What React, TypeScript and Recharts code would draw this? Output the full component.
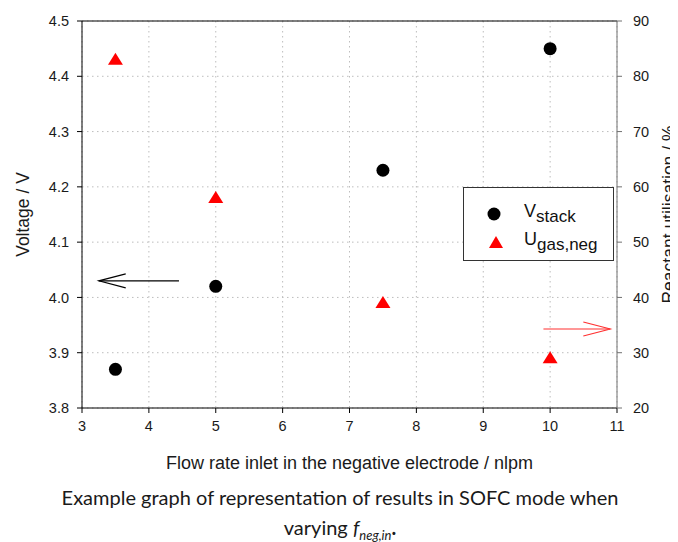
import {
  CartesianGrid,
  ReferenceLine,
  Scatter,
  ScatterChart,
  XAxis,
  YAxis,
} from "recharts";

const flowRates = [3.5, 5, 7.5, 10];
const stackVoltage = [3.87, 4.02, 4.23, 4.45];
const gasUtilisation = [83, 58, 39, 29];

const xTicks = [3, 4, 5, 6, 7, 8, 9, 10, 11];
const voltageTicks = [3.8, 3.9, 4.0, 4.1, 4.2, 4.3, 4.4, 4.5];
const utilTicks = [20, 30, 40, 50, 60, 70, 80, 90];

// arrows pointing to the axis each series belongs to
const voltageArrow = [
  { x: 4.45, y: 4.03 },
  { x: 3.25, y: 4.03 },
];
const utilArrow = [
  { x: 9.9, y: 34.3 },
  { x: 10.9, y: 34.3 },
];

const voltageData = flowRates.map((flow, i) => ({ flow, value: stackVoltage[i] }));
const utilData = flowRates.map((flow, i) => ({ flow, value: gasUtilisation[i] }));

const FONT = '"Liberation Sans", Arial, sans-serif';
const tickStyle = { fontSize: 14.5, fill: "#1a1a1a", fontFamily: FONT };
const labelStyle = { fontSize: 17.5, fill: "#1a1a1a", fontFamily: FONT, textAnchor: "middle" };

function Dot({ cx, cy }: { cx?: number; cy?: number }) {
  return <circle cx={cx} cy={cy} r={6.5} fill="#000" />;
}

function Triangle({ cx, cy }: { cx?: number; cy?: number }) {
  const x = cx ?? 0;
  const y = cy ?? 0;
  return (
    <polygon
      points={`${x},${y - 7} ${x + 7.5},${y + 5} ${x - 7.5},${y + 5}`}
      fill="#ff0000"
    />
  );
}

function makeArrow(color: string) {
  return function Arrow(props: any) {
    const { x1, y1, x2, y2 } = props;
    const dir = x2 > x1 ? -1 : 1;
    return (
      <g stroke={color} strokeWidth={1.1} fill="none">
        <line x1={x1} y1={y1} x2={x2} y2={y2} />
        <polyline
          points={`${x2 + dir * 27},${y2 - 7} ${x2},${y2} ${x2 + dir * 27},${y2 + 7}`}
        />
      </g>
    );
  };
}

// rotated label drawn by hand so its baseline sits just inside the right edge
function RightAxisLabel(props: any) {
  const { viewBox } = props;
  const x = viewBox.x + viewBox.width - 3;
  const y = viewBox.y + viewBox.height / 2;
  return (
    <text
      x={x}
      y={y}
      transform={`rotate(-90, ${x}, ${y})`}
      textAnchor="middle"
      style={{ fontSize: 17.5, fill: "#1a1a1a", fontFamily: FONT }}
    >
      Reactant utilisation / %
    </text>
  );
}

function LegendBox() {
  return (
    <div
      style={{
        position: "absolute",
        left: 455,
        top: 179,
        width: 149,
        height: 72,
        border: "1px solid #333",
        background: "#fff",
        fontFamily: FONT,
        fontSize: 18,
        color: "#111",
      }}
    >
      <div style={{ position: "absolute", left: 22, top: 13, display: "flex", alignItems: "center" }}>
        <svg width={16} height={16}>
          <circle cx={8} cy={8} r={6.5} fill="#000" />
        </svg>
        <span style={{ marginLeft: 22 }}>
          V<sub style={{ fontSize: 17 }}>stack</sub>
        </span>
      </div>
      <div style={{ position: "absolute", left: 24, top: 41, display: "flex", alignItems: "center" }}>
        <svg width={16} height={16}>
          <polygon points="8,2 15,14 1,14" fill="#ff0000" />
        </svg>
        <span style={{ marginLeft: 20 }}>
          U<sub style={{ fontSize: 17 }}>gas,neg</sub>
        </span>
      </div>
    </div>
  );
}

export default function App() {
  return (
    <div style={{ position: "relative", width: 670, height: 534, background: "#fff" }}>
      <ScatterChart
        width={670}
        height={470}
        margin={{ top: 13, right: 0, bottom: 0, left: 0 }}
      >
        <CartesianGrid stroke="#bdbdbd" strokeDasharray="1.5 3.5" yAxisId="left" />
        <XAxis
          type="number"
          dataKey="flow"
          domain={[3, 11]}
          ticks={xTicks}
          height={70}
          tickSize={5}
          tickMargin={8}
          stroke="#000"
          tick={tickStyle}
          label={{
            value: "Flow rate inlet in the negative electrode / nlpm",
            position: "insideBottom",
            offset: 9,
            style: { ...labelStyle, fontSize: 18 },
          }}
        />
        <YAxis
          yAxisId="left"
          type="number"
          dataKey="value"
          domain={[3.8, 4.5]}
          ticks={voltageTicks}
          width={74}
          tickSize={5}
          tickMargin={8}
          stroke="#000"
          tick={tickStyle}
          tickFormatter={(v: number) => v.toFixed(1)}
          label={{
            value: "Voltage / V",
            angle: -90,
            position: "insideLeft",
            offset: 15,
            style: labelStyle,
          }}
        />
        <YAxis
          yAxisId="right"
          orientation="right"
          type="number"
          dataKey="value"
          domain={[20, 90]}
          ticks={utilTicks}
          width={61}
          tickSize={5}
          tickMargin={11}
          stroke="#707070"
          tick={tickStyle}
          label={<RightAxisLabel />}
        />
        <ReferenceLine yAxisId="left" y={4.5} stroke="#000" />
        <ReferenceLine
          yAxisId="left"
          segment={voltageArrow}
          shape={makeArrow("#000")}
          ifOverflow="visible"
        />
        <ReferenceLine
          yAxisId="right"
          segment={utilArrow}
          shape={makeArrow("#ff3030")}
          ifOverflow="visible"
        />
        <Scatter
          yAxisId="left"
          data={voltageData}
          shape={Dot}
          isAnimationActive={false}
        />
        <Scatter
          yAxisId="right"
          data={utilData}
          shape={Triangle}
          isAnimationActive={false}
        />
      </ScatterChart>
      <LegendBox />
      <div
        style={{
          position: "absolute",
          left: 0,
          top: 474,
          width: 664,
          textAlign: "center",
          fontFamily: "Lato, sans-serif",
          fontSize: 20,
          lineHeight: "30px",
          color: "#1a1a1a",
        }}
      >
        <div>Example graph of representation of results in SOFC mode when</div>
        <div>
          varying <i>f</i>
          <sub style={{ fontSize: 13, fontStyle: "italic" }}>neg,in</sub>
          <b>.</b>
        </div>
      </div>
    </div>
  );
}
